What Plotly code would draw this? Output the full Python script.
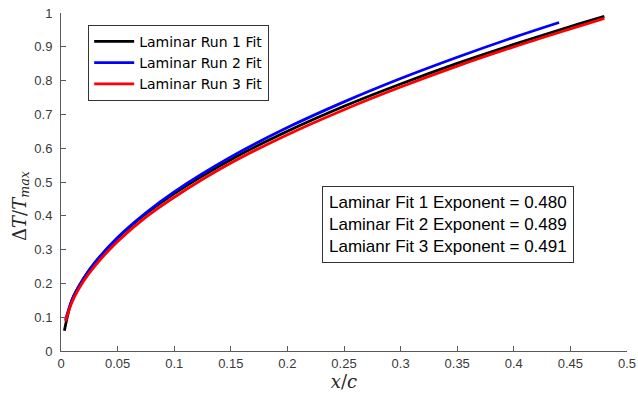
import plotly.graph_objects as go

x1 = [0.003, 0.01, 0.02, 0.03, 0.05, 0.075, 0.1, 0.15, 0.2, 0.25, 0.3, 0.35, 0.4, 0.45, 0.48]
y1 = [0.060, 0.154, 0.215, 0.262, 0.334, 0.406, 0.466, 0.566, 0.650, 0.724, 0.790, 0.851, 0.907, 0.960, 0.990]

x2 = [0.004, 0.01, 0.02, 0.03, 0.05, 0.075, 0.1, 0.15, 0.2, 0.25, 0.3, 0.35, 0.4, 0.44]
y2 = [0.092, 0.153, 0.214, 0.261, 0.336, 0.409, 0.471, 0.574, 0.661, 0.737, 0.806, 0.869, 0.928, 0.972]

x3 = [0.004, 0.01, 0.02, 0.03, 0.05, 0.075, 0.1, 0.15, 0.2, 0.25, 0.3, 0.35, 0.4, 0.45, 0.48]
y3 = [0.088, 0.147, 0.207, 0.252, 0.324, 0.396, 0.455, 0.556, 0.640, 0.714, 0.781, 0.843, 0.900, 0.953, 0.984]

names = ["Laminar Run 1 Fit", "Laminar Run 2 Fit", "Laminar Run 3 Fit"]
colors = ["#000000", "#0000ff", "#ff0000"]
exp_text = ["Laminar Fit 1 Exponent = 0.480",
            "Laminar Fit 2 Exponent = 0.489",
            "Lamianr Fit 3 Exponent = 0.491"]

x_ticks = [0, 0.05, 0.1, 0.15, 0.2, 0.25, 0.3, 0.35, 0.4, 0.45, 0.5]
x_labels = ["0", "0.05", "0.1", "0.15", "0.2", "0.25", "0.3", "0.35", "0.4", "0.45", "0.5"]
y_ticks = [0, 0.1, 0.2, 0.3, 0.4, 0.5, 0.6, 0.7, 0.8, 0.9, 1]
y_labels = ["0", "0.1", "0.2", "0.3", "0.4", "0.5", "0.6", "0.7", "0.8", "0.9", "1"]

fig = go.Figure()
for xs, ys, n, c in zip([x1, x2, x3], [y1, y2, y3], names, colors):
    fig.add_trace(go.Scatter(x=xs, y=ys, mode="lines", name=n,
                             line=dict(color=c, width=2.8, shape="spline", smoothing=1.0)))

axis_common = dict(showline=True, linecolor="#5a5a5a", linewidth=1, ticks="inside",
                   ticklen=5, tickcolor="#5a5a5a", showgrid=False, zeroline=False,
                   tickfont=dict(family="Liberation Sans, Arial", size=13, color="#3a3a3a"),
                   mirror=False, automargin=False)

fig.update_layout(
    width=638, height=398,
    margin=dict(l=61, r=11, t=13, b=47),
    paper_bgcolor="white", plot_bgcolor="white",
    xaxis=dict(range=[0, 0.5], tickvals=x_ticks, ticktext=x_labels,
               title=dict(text="<i>x</i>/<i>c</i>", standoff=3,
                          font=dict(family="DejaVu Serif, serif", size=18, color="#262626")),
               **axis_common),
    yaxis=dict(range=[0, 1], tickvals=y_ticks, ticktext=y_labels,
               ticklabelstandoff=5, **axis_common),
    legend=dict(x=0.048, y=0.965, xanchor="left", yanchor="top",
                bordercolor="#333333", borderwidth=1, bgcolor="white",
                font=dict(family="DejaVu Sans, sans-serif", size=14, color="#000000"),
                tracegroupgap=0, itemwidth=40),
    showlegend=True,
)

fig.add_annotation(xref="paper", yref="paper", x=-0.072, y=0.43,
                   xanchor="center", yanchor="middle", showarrow=False, textangle=-90,
                   text="Δ<i>T</i>/<i>T</i><sub><i>max</i></sub>",
                   font=dict(family="DejaVu Serif, serif", size=18, color="#262626"))

fig.add_annotation(xref="paper", yref="paper", x=0.461, y=0.487,
                   xanchor="left", yanchor="top", align="left", showarrow=False,
                   text="<br>".join(exp_text),
                   font=dict(family="Liberation Sans, Arial", size=17, color="#000000"),
                   bordercolor="#333333", borderwidth=1, borderpad=6, bgcolor="white")

fig.write_html("out.html")
